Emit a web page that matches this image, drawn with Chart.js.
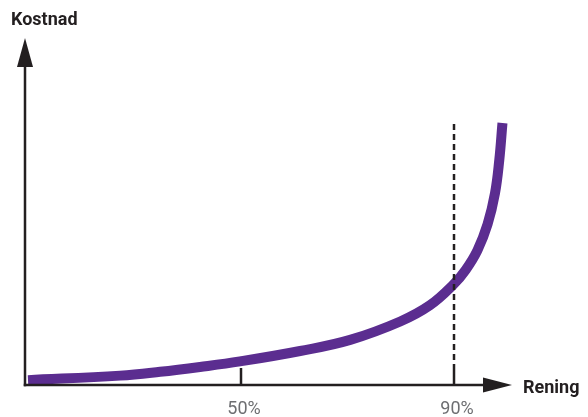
<!DOCTYPE html>
<html>
<head>
<meta charset="utf-8">
<script src="https://cdn.jsdelivr.net/npm/chart.js@4/dist/chart.umd.min.js"></script>
<style>
html,body{margin:0;padding:0;background:#fff;}
canvas{display:block;}
</style>
</head>
<body>
<canvas id="c" width="588" height="417"></canvas>
<script>
// Rening (%) along the x axis
const renings = [10.0, 27.3, 34.8, 42.3, 49.8, 61.1, 70.5, 79.9, 85.5, 89.8, 92.2, 94.4, 96.3, 97.7, 98.5, 99.1];
// Kostnad (relative units, 0..100 = axis height)
const kostnad = [1.4, 2.7, 3.8, 5.2, 6.8, 9.8, 13.0, 18.3, 23.0, 28.8, 33.2, 38.8, 46.3, 55.3, 64.8, 75.5];
// x tick positions and labels
const tickValues = [50, 90];
const tickLabels = ['50%', '90%'];
// dashed marker line at 90%
const markerX = 90;
const markerTop = 75.2;
const xTitle = 'Rening';
const yTitle = 'Kostnad';

const INK = '#231f20';

const axesPlugin = {
  id: 'axesPlugin',
  afterDatasetsDraw(chart) {
    const ctx = chart.ctx;
    const xs = chart.scales.x, ys = chart.scales.y;
    const x0 = xs.getPixelForValue(xs.min);
    const xEnd = xs.getPixelForValue(xs.max);
    const yb = ys.getPixelForValue(0);
    const yt = ys.getPixelForValue(ys.max);
    ctx.save();
    ctx.strokeStyle = INK;
    ctx.fillStyle = INK;
    ctx.lineWidth = 2.5;
    ctx.lineCap = 'butt';
    // y axis
    ctx.beginPath();
    ctx.moveTo(x0, yb + 1.25);
    ctx.lineTo(x0, yt + 20);
    ctx.stroke();
    ctx.beginPath();
    ctx.moveTo(x0 - 8, yt + 29);
    ctx.lineTo(x0, yt);
    ctx.lineTo(x0 + 8, yt + 29);
    ctx.closePath();
    ctx.fill();
    // x axis
    ctx.beginPath();
    ctx.moveTo(x0 - 1.25, yb);
    ctx.lineTo(xEnd - 20, yb);
    ctx.stroke();
    ctx.beginPath();
    ctx.moveTo(xEnd - 29, yb - 7.5);
    ctx.lineTo(xEnd, yb);
    ctx.lineTo(xEnd - 29, yb + 7.5);
    ctx.closePath();
    ctx.fill();
    // ticks
    tickValues.forEach((v, i) => {
      const px = xs.getPixelForValue(v);
      ctx.beginPath();
      ctx.moveTo(px, yb);
      ctx.lineTo(px, yb - 17);
      ctx.stroke();
      ctx.save();
      ctx.fillStyle = '#6d6e71';
      ctx.font = '18px Roboto';
      ctx.textAlign = 'center';
      ctx.textBaseline = 'top';
      ctx.fillText(tickLabels[i], px + 3, yb + 15);
      ctx.restore();
    });
    // dashed marker
    const mx = xs.getPixelForValue(markerX);
    ctx.beginPath();
    ctx.setLineDash([6, 4]);
    ctx.moveTo(mx, ys.getPixelForValue(markerTop));
    ctx.lineTo(mx, yb - 17);
    ctx.stroke();
    ctx.setLineDash([]);
    // titles
    ctx.font = 'bold 18px Roboto';
    ctx.textBaseline = 'alphabetic';
    ctx.textAlign = 'left';
    ctx.fillText(yTitle, x0 - 14, yt - 13);
    ctx.fillText(xTitle, xEnd + 11, yb + 8);
    ctx.restore();
  }
};

new Chart(document.getElementById('c'), {
  type: 'line',
  data: {
    datasets: [{
      data: renings.map((x, i) => ({ x: x, y: kostnad[i] })),
      borderColor: '#5b2d90',
      borderWidth: 10,
      borderCapStyle: 'butt',
      pointRadius: 0,
      tension: 0.4,
      fill: false,
      clip: false
    }]
  },
  options: {
    responsive: false,
    animation: false,
    devicePixelRatio: 1,
    layout: { padding: { left: 25, right: 76, top: 38, bottom: 32 } },
    scales: {
      x: { type: 'linear', min: 9.437, max: 100.89, display: false },
      y: { type: 'linear', min: 0, max: 100, display: false }
    },
    plugins: { legend: { display: false }, tooltip: { enabled: false } }
  },
  plugins: [axesPlugin]
});
</script>
</body>
</html>
